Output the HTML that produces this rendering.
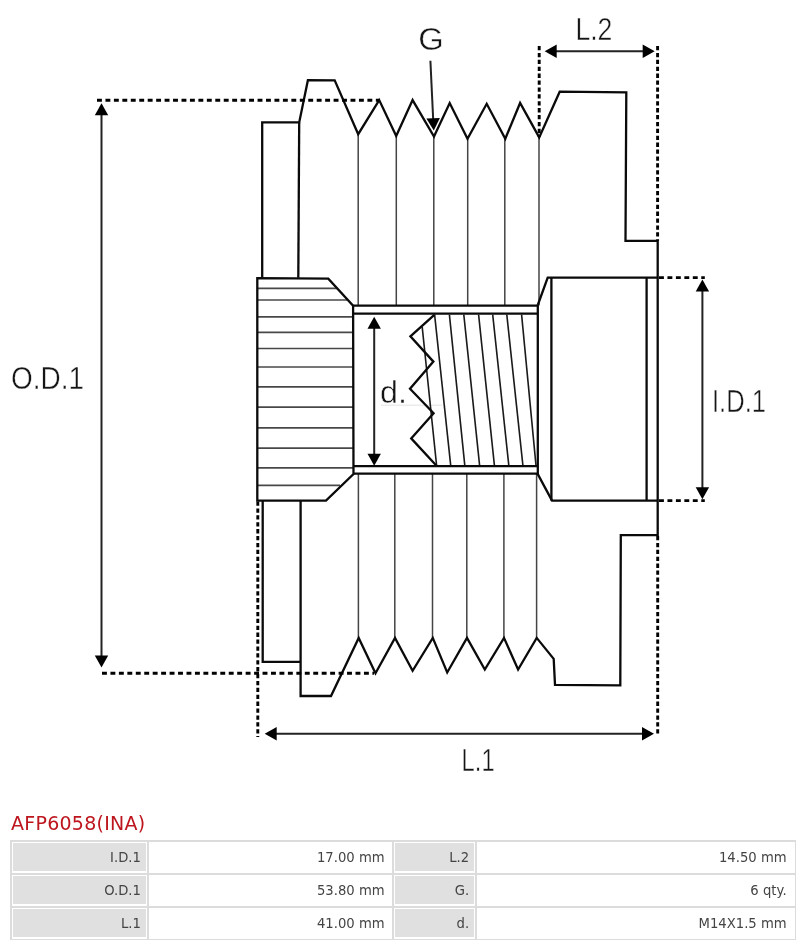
<!DOCTYPE html>
<html lang="en"><head><meta charset="utf-8"><title>AFP6058(INA)</title>
<style>
html,body{margin:0;padding:0;background:#fff}
body{width:809px;height:946px;position:relative;overflow:hidden;font-family:"DejaVu Sans","Liberation Sans",sans-serif}
.title{position:absolute;will-change:transform;left:11.3px;top:811.4px;font-size:19px;line-height:24px;letter-spacing:0.25px;color:#bd161e;white-space:nowrap}
.ln{position:absolute;background:#dcdcdc}
.lab,.val{position:absolute;will-change:transform;box-sizing:border-box;font-size:13.2px;color:#444;text-align:right;white-space:nowrap}
.lab{background:#e0e0e0;padding-right:4.9px}
.val{padding-right:1.4px}
</style></head><body>
<svg width="809" height="800" viewBox="0 0 809 800" style="position:absolute;left:0;top:0;will-change:transform">
<line x1="381" y1="405.2" x2="442" y2="405.2" stroke="#dcdcdc" stroke-width="0.8"/>
<g stroke="#444" stroke-width="1.5" fill="none">
<line x1="358.2" y1="134.2" x2="358.2" y2="305.6"/>
<line x1="396.3" y1="136.1" x2="396.3" y2="305.6"/>
<line x1="433.8" y1="136.6" x2="433.8" y2="305.6"/>
<line x1="467.7" y1="138.7" x2="467.7" y2="305.6"/>
<line x1="504.8" y1="138.7" x2="504.8" y2="305.6"/>
<line x1="539" y1="137.4" x2="539" y2="305.6"/>
<line x1="358.4" y1="473.6" x2="358.4" y2="637.9"/>
<line x1="394.8" y1="473.6" x2="394.8" y2="637.9"/>
<line x1="432.5" y1="473.6" x2="432.5" y2="637.9"/>
<line x1="466.8" y1="473.6" x2="466.8" y2="637.9"/>
<line x1="503.9" y1="473.6" x2="503.9" y2="637.9"/>
<line x1="536.6" y1="473.6" x2="536.6" y2="637.9"/>
</g>
<g stroke="#484848" stroke-width="1.7" fill="none">
<line x1="257.3" y1="288.4" x2="337" y2="288.4"/>
<line x1="257.3" y1="300" x2="347.5" y2="300"/>
<line x1="257.3" y1="316.9" x2="353" y2="316.9"/>
<line x1="257.3" y1="332.4" x2="353" y2="332.4"/>
<line x1="257.3" y1="348.5" x2="353" y2="348.5"/>
<line x1="257.3" y1="367" x2="353" y2="367"/>
<line x1="257.3" y1="386.8" x2="353" y2="386.8"/>
<line x1="257.3" y1="407.2" x2="353" y2="407.2"/>
<line x1="257.3" y1="427.9" x2="353" y2="427.9"/>
<line x1="257.3" y1="448.2" x2="353" y2="448.2"/>
<line x1="257.3" y1="467.8" x2="353" y2="467.8"/>
<line x1="257.3" y1="485.4" x2="340" y2="485.4"/>
</g>
<g stroke="#1a1a1a" stroke-width="1.6" fill="none">
<line x1="422.2" y1="327" x2="436.6" y2="465.4"/>
<line x1="434.6" y1="314.6" x2="450.7" y2="465.4"/>
<line x1="449.4" y1="314.6" x2="464.8" y2="465.4"/>
<line x1="463.8" y1="314.6" x2="479.6" y2="465.4"/>
<line x1="478.6" y1="314.6" x2="494.4" y2="465.4"/>
<line x1="492.7" y1="314.6" x2="508.8" y2="465.4"/>
<line x1="506.8" y1="314.6" x2="522.9" y2="465.4"/>
<line x1="521.6" y1="314.6" x2="536" y2="465.4"/>
</g>
<g stroke="#0a0a0a" stroke-width="2.3" fill="none" stroke-linejoin="miter" stroke-linecap="butt">
<polyline points="262.2,277.8 262.2,122.4 299.2,122.4 307.9,80.2 334.7,80.3 358.2,134.2 379.2,100.1 396.2,136.1 412.6,100.1 434,136.6 449.7,103.1 467.5,138.7 486.7,103.8 505.3,138.7 520.1,103.0 539.2,137.4 559.7,91.7 626.3,92.4 625.5,240.8 657.7,240.8 657.7,535.2 620.8,535.2 620.3,685.3 555,684.8 553.7,658.9 536.7,637.9 518.1,669.5 504,637.9 484.8,669.5 467,637.9 447.2,672.5 432.8,637.9 412.6,670.8 395,637.9 375.5,673.2 358.7,637.9 331,696 300.6,696 300.6,500.6"/>
<polyline points="299.2,122.4 298.3,277.8"/>
<polyline points="262.7,500.6 262.7,661.9 300.6,661.9"/>
<polygon points="257.3,278.1 328.3,278.7 353.1,305.7 353.5,474 326,500.6 257.3,500.6"/>
<line x1="353.2" y1="305.6" x2="537.8" y2="305.6"/>
<line x1="353.2" y1="313.6" x2="537.8" y2="313.6"/>
<line x1="353.2" y1="466.2" x2="537.8" y2="466.2"/>
<line x1="353.2" y1="473.6" x2="537.8" y2="473.6"/>
<line x1="537.8" y1="304.6" x2="537.8" y2="474.6"/>
<polyline points="537.8,305 547.7,277.6 657.7,277.6"/>
<polyline points="537.5,473.6 552,500.6 657.7,500.6"/>
<line x1="551.4" y1="277.6" x2="551.4" y2="500.6"/>
<line x1="646.6" y1="277.6" x2="646.6" y2="500.6"/>
<polyline points="434.6,314.6 410.4,336.4 433.4,361.6 410,388.8 433.6,413.3 411.2,438.4 436.5,465.8"/>
</g>
<g stroke="#000" stroke-width="2.9" fill="none" stroke-dasharray="4.9 3.55">
<line x1="97" y1="100.2" x2="379" y2="100.2"/>
<line x1="102" y1="673.2" x2="374" y2="673.2"/>
<line x1="659" y1="277.6" x2="704.8" y2="277.6"/>
<line x1="659" y1="500.6" x2="704.8" y2="500.6"/>
</g>
<g stroke="#000" stroke-width="2.9" fill="none" stroke-dasharray="4.3 2.6">
<line x1="257.8" y1="501.5" x2="257.8" y2="737"/>
<line x1="539.2" y1="46" x2="539.2" y2="137"/>
<line x1="657.6" y1="46" x2="657.6" y2="240.8"/>
<line x1="657.7" y1="536" x2="657.7" y2="734"/>
</g>
<g stroke="#222" stroke-width="2" fill="none">
<line x1="101.5" y1="110" x2="101.5" y2="660"/>
<line x1="550" y1="51.2" x2="650" y2="51.2"/>
<line x1="270" y1="733.8" x2="648" y2="733.8"/>
<line x1="702.4" y1="286" x2="702.4" y2="493"/>
<line x1="374.2" y1="324" x2="374.2" y2="458"/>
<line x1="430.4" y1="60.8" x2="433.2" y2="120"/>
</g>
<polygon points="101.5,103.3 94.8,115.3 108.2,115.3" fill="#000"/>
<polygon points="101.5,667.5 94.8,655.5 108.2,655.5" fill="#000"/>
<polygon points="544.7,51.2 556.7,44.5 556.7,57.900000000000006" fill="#000"/>
<polygon points="654.7,51.2 642.7,44.5 642.7,57.900000000000006" fill="#000"/>
<polygon points="264.7,733.8 276.7,727.0999999999999 276.7,740.5" fill="#000"/>
<polygon points="654,733.8 642,727.0999999999999 642,740.5" fill="#000"/>
<polygon points="702.4,279.6 695.6999999999999,291.6 709.1,291.6" fill="#000"/>
<polygon points="702.4,499.3 695.6999999999999,487.3 709.1,487.3" fill="#000"/>
<polygon points="374.2,316.7 367.5,328.7 380.9,328.7" fill="#000"/>
<polygon points="374.2,465.8 367.5,453.8 380.9,453.8" fill="#000"/>
<polygon points="433.8,130.5 426.4,118.6 439.9,118" fill="#000"/>
<g font-family="'Liberation Sans', sans-serif" fill="#151515" stroke="#fff" stroke-width="0.45" paint-order="fill stroke">
<text x="418.3" y="50" textLength="25.5" lengthAdjust="spacingAndGlyphs" font-size="30.5">G</text>
<text x="575.4" y="40.3" textLength="37" lengthAdjust="spacingAndGlyphs" font-size="30.5">L.2</text>
<text x="11" y="389.3" textLength="73" lengthAdjust="spacingAndGlyphs" font-size="30.5">O.D.1</text>
<text x="712" y="411.7" textLength="54" lengthAdjust="spacingAndGlyphs" font-size="30.5">I.D.1</text>
<text x="380" y="403.4" textLength="27" lengthAdjust="spacingAndGlyphs" font-size="30.5">d.</text>
<text x="461.6" y="770.5" textLength="33" lengthAdjust="spacingAndGlyphs" font-size="30.5">L.1</text>
</g>
</svg>
<div class="title">AFP6058(INA)</div>
<div class="tbl">
<div class="ln" style="left:10px;top:840.3px;width:786px;height:1.5px"></div>
<div class="ln" style="left:10px;top:873.0px;width:786px;height:1.8px"></div>
<div class="ln" style="left:10px;top:905.8px;width:786px;height:1.8px"></div>
<div class="ln" style="left:10px;top:938.6px;width:786px;height:1.5px"></div>
<div class="ln" style="left:10px;top:840.3px;width:1.5px;height:99.8px"></div>
<div class="ln" style="left:147.4px;top:840.3px;width:1.6px;height:99.8px"></div>
<div class="ln" style="left:392px;top:840.3px;width:1.6px;height:99.8px"></div>
<div class="ln" style="left:475.4px;top:840.3px;width:1.6px;height:99.8px"></div>
<div class="ln" style="left:794.5px;top:840.3px;width:1.5px;height:99.8px"></div>
<div class="lab" style="left:13px;top:843.1px;width:132.8px;height:28.4px;line-height:30.6px">I.D.1</div>
<div class="val" style="left:150px;top:843.1px;width:236px;height:28.4px;line-height:30.6px">17.00 mm</div>
<div class="lab" style="left:395.2px;top:843.1px;width:79px;height:28.4px;line-height:30.6px">L.2</div>
<div class="val" style="left:478px;top:843.1px;width:310px;height:28.4px;line-height:30.6px">14.50 mm</div>
<div class="lab" style="left:13px;top:876.0px;width:132.8px;height:28.3px;line-height:30.5px">O.D.1</div>
<div class="val" style="left:150px;top:876.0px;width:236px;height:28.3px;line-height:30.5px">53.80 mm</div>
<div class="lab" style="left:395.2px;top:876.0px;width:79px;height:28.3px;line-height:30.5px">G.</div>
<div class="val" style="left:478px;top:876.0px;width:310px;height:28.3px;line-height:30.5px">6 qty.</div>
<div class="lab" style="left:13px;top:908.7px;width:132.8px;height:28.3px;line-height:30.5px">L.1</div>
<div class="val" style="left:150px;top:908.7px;width:236px;height:28.3px;line-height:30.5px">41.00 mm</div>
<div class="lab" style="left:395.2px;top:908.7px;width:79px;height:28.3px;line-height:30.5px">d.</div>
<div class="val" style="left:478px;top:908.7px;width:310px;height:28.3px;line-height:30.5px">M14X1.5 mm</div>
</div>
</body></html>
